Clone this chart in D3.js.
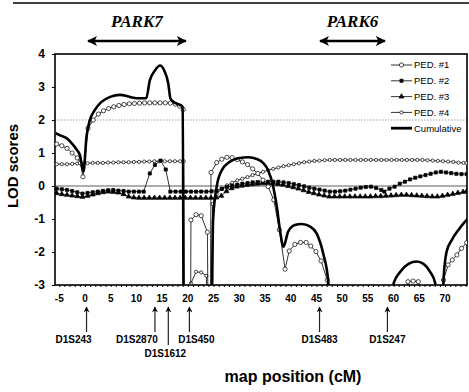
<!DOCTYPE html>
<html>
<head>
<meta charset="utf-8">
<script src="https://cdn.jsdelivr.net/npm/d3@7"></script>
<style>
body { margin: 0; background: #fff; }
svg { display: block; }
</style>
</head>
<body>
<div id="chart"></div>
<script>
var width = 469;
var height = 392;

// LOD scores, [map position cM, LOD]; -10 = off the bottom of the plot
var ped1 = [[-5.5,1.27],[-4.5,1.22],[-3.5,1.14],[-2.5,1.0],[-1.5,0.85],[-0.9,0.7],[-0.4,0.28],
    [0.6,1.75],[1.6,2.0],[2.6,2.18],[3.6,2.28],[4.6,2.35],[5.6,2.4],[6.6,2.44],[7.6,2.47],[8.6,2.49],
    [9.6,2.5],[10.6,2.51],[11.6,2.52],[12.6,2.52],[13.6,2.52],[14.6,2.52],[15.6,2.52],[16.6,2.51],
    [17.6,2.48],[18.4,2.42],[19.1,2.32],[19.3,-10],[20.4,-10],[20.6,-1.03],[21.6,-0.87],[22.6,-0.9],
    [23.8,-1.4],[24.2,-10],[24.5,0.41],[25.6,0.71],[26.6,0.81],[27.6,0.87],[28.6,0.86],[29.6,0.8],
    [30.6,0.73],[31.6,0.65],[32.6,0.52],[33.6,0.38],[34.6,0.18],[35.6,-0.02],[36.7,-0.42],[37.8,-1.33],
    [38.9,-2.52],[39.7,-1.97],[40.8,-1.77],[41.9,-1.71],[43.0,-1.71],[43.9,-1.82],[44.9,-1.99],
    [45.9,-2.27],[47.1,-2.85],[47.4,-10],[62.4,-10],[62.8,-2.9],[63.8,-2.88],[64.8,-2.9],[65.2,-10],
    [69.4,-10],[69.7,-2.85],[70.6,-2.39],[71.4,-2.24],[72.3,-2.09],[73.2,-1.89],[74.2,-1.72]];

var ped2 = [[-5.5,-0.08],[-4.5,-0.1],[-3.5,-0.12],[-2.5,-0.15],[-1.5,-0.19],[-0.5,-0.23],[0.5,-0.21],
    [1.5,-0.19],[2.5,-0.17],[3.5,-0.15],[4.5,-0.13],[5.5,-0.12],[6.5,-0.14],[7.5,-0.15],[8.5,-0.17],
    [9.5,-0.17],[10.5,-0.17],[11.4,-0.17],[12.6,0.38],[13.6,0.64],[14.7,0.77],[15.7,0.5],[16.6,-0.17],
    [17.6,-0.17],[18.6,-0.17],[19.6,-0.17],[20.6,-0.17],[21.6,-0.17],[22.6,-0.17],[23.6,-0.17],
    [24.6,-0.16],[25.6,-0.14],[26.6,-0.09],[27.6,-0.03],[28.6,0.01],[29.6,0.04],[30.6,0.07],
    [31.6,0.09],[32.6,0.11],[33.6,0.12],[34.6,0.13],[35.6,0.13],[36.6,0.13],[37.6,0.13],[38.6,0.11],
    [39.6,0.09],[40.6,0.06],[41.6,0.03],[42.6,-0.01],[43.6,-0.05],[44.6,-0.08],[45.6,-0.11],
    [46.6,-0.14],[47.6,-0.17],[48.6,-0.17],[49.6,-0.16],[50.6,-0.14],[51.6,-0.11],[52.6,-0.08],
    [53.6,-0.05],[54.6,-0.03],[55.6,-0.02],[56.6,-0.06],[57.6,-0.12],[58.2,-0.17],[59.2,-0.08],
    [60.2,-0.02],[61.2,0.07],[62.2,0.13],[63.2,0.2],[64.2,0.25],[65.2,0.29],[66.2,0.33],[67.2,0.37],
    [68.2,0.41],[69.2,0.43],[70.2,0.41],[71.2,0.39],[72.2,0.37],[73.2,0.36],[74.2,0.36]];

var ped3 = [[-5.5,-0.22],[-4.5,-0.25],[-3.5,-0.27],[-2.5,-0.29],[-1.5,-0.31],[-0.5,-0.33],[0.5,-0.3],
    [1.5,-0.26],[2.5,-0.22],[3.5,-0.19],[4.5,-0.17],[5.5,-0.18],[6.5,-0.2],[7.5,-0.25],[8.5,-0.32],
    [9.5,-0.35],[10.5,-0.36],[11.5,-0.36],[12.5,-0.36],[13.5,-0.36],[14.5,-0.36],[15.5,-0.36],
    [16.5,-0.36],[17.5,-0.36],[18.5,-0.36],[19.5,-0.36],[20.5,-0.36],[21.5,-0.36],[22.5,-0.36],
    [23.5,-0.36],[24.5,-0.36],[25.5,-0.35],[26.5,-0.3],[27.5,-0.16],[28.5,-0.07],[29.5,-0.02],
    [30.5,0.01],[31.5,0.03],[32.5,0.05],[33.5,0.07],[34.5,0.08],[35.5,0.08],[36.5,0.08],[37.5,0.06],
    [38.5,0.04],[39.5,0.0],[40.5,-0.04],[41.5,-0.08],[42.5,-0.13],[43.5,-0.18],[44.5,-0.22],
    [45.5,-0.26],[46.5,-0.29],[47.5,-0.32],[48.5,-0.32],[49.5,-0.32],[50.5,-0.32],[51.5,-0.32],
    [52.5,-0.32],[53.5,-0.32],[54.5,-0.32],[55.5,-0.32],[56.5,-0.31],[57.5,-0.31],[58.5,-0.3],
    [59.5,-0.29],[60.5,-0.28],[61.5,-0.27],[62.5,-0.27],[63.5,-0.28],[64.5,-0.29],[65.5,-0.3],
    [66.5,-0.31],[67.5,-0.32],[68.5,-0.32],[69.5,-0.3],[70.5,-0.27],[71.5,-0.24],[72.5,-0.21],
    [73.5,-0.18],[74.2,-0.16]];

var ped4 = [[-5.5,0.66],[-4.5,0.66],[-3.5,0.66],[-2.5,0.67],[-1.5,0.68],[-0.5,0.68],[0.5,0.69],
    [1.5,0.7],[2.5,0.7],[3.5,0.7],[4.5,0.71],[5.5,0.71],[6.5,0.72],[7.5,0.72],[8.5,0.72],[9.5,0.73],
    [10.5,0.73],[11.5,0.74],[12.5,0.74],[13.5,0.75],[14.5,0.75],[15.5,0.75],[16.5,0.75],[17.5,0.75],
    [18.5,0.75],[19.2,0.75],[19.4,-10],[20.4,-10],[20.6,-2.95],[21.6,-2.6],[22.6,-2.62],[23.6,-2.72],
    [24.2,-10],[24.8,-0.55],[25.6,-0.25],[26.6,-0.08],[27.6,0.02],[28.6,0.1],[29.6,0.17],[30.6,0.22],
    [31.6,0.27],[32.6,0.33],[33.6,0.38],[34.6,0.43],[35.6,0.48],[36.6,0.52],[37.6,0.56],[38.6,0.6],
    [39.6,0.63],[40.6,0.66],[41.6,0.69],[42.6,0.72],[43.6,0.74],[44.6,0.76],[45.6,0.77],[46.6,0.78],
    [47.6,0.79],[48.6,0.79],[49.6,0.79],[50.6,0.79],[51.6,0.79],[52.6,0.79],[53.6,0.79],[54.6,0.79],
    [55.6,0.79],[56.6,0.79],[57.6,0.79],[58.6,0.79],[59.6,0.79],[60.6,0.79],[61.6,0.79],[62.6,0.79],
    [63.6,0.79],[64.6,0.79],[65.6,0.79],[66.6,0.78],[67.6,0.77],[68.6,0.76],[69.6,0.75],[70.6,0.74],
    [71.6,0.73],[72.6,0.71],[73.6,0.7],[74.2,0.69]];

var cumulative = [[-5.7,1.6],[-4.6,1.52],[-3.6,1.45],[-2.6,1.3],[-1.6,1.1],[-1.0,0.94],[-0.3,0.43],
    [0.3,1.5],[0.85,1.95],[1.9,2.3],[3.2,2.55],[4.9,2.7],[6.8,2.76],[8.75,2.7],[10,2.66],[11.9,2.66],
    [12.6,3.2],[13.6,3.5],[14.6,3.65],[15.4,3.5],[16.2,3.1],[16.6,2.66],[17.2,2.55],[18.1,2.48],
    [19.0,2.4],[19.3,-10],[24.3,-10],[24.9,-1.03],[25.6,-0.02],[26.6,0.48],[28.2,0.74],[29.8,0.84],
    [31.8,0.87],[33.4,0.82],[34.7,0.69],[35.6,0.48],[36.6,-0.02],[37.3,-0.63],[37.9,-1.33],
    [38.6,-1.84],[39.5,-1.38],[40.8,-1.18],[42.1,-1.15],[43.8,-1.23],[45.0,-1.43],[46.3,-2.04],
    [47.3,-2.9],[47.6,-10],[59.8,-10],[60,-2.95],[61.3,-2.6],[62.9,-2.36],[64.5,-2.29],[65.8,-2.36],
    [67.1,-2.6],[68.1,-2.95],[68.4,-10],[69.5,-10],[69.7,-2.85],[70.3,-1.99],[71.3,-1.64],
    [72.6,-1.33],[73.6,-1.13],[74.5,-0.98]];

var seriesNames = ["PED. #1", "PED. #2", "PED. #3", "PED. #4", "Cumulative"];
var xTicks = [-5, 0, 5, 10, 15, 20, 25, 30, 35, 40, 45, 50, 55, 60, 65, 70];
var yTicks = [-3, -2, -1, 0, 1, 2, 3, 4];

var markerNames = ["D1S243", "D1S2870", "D1S1612", "D1S450", "D1S483", "D1S247"];
var markerPos = [0.3, 13.6, 16.2, 20.3, 45.6, 58.8];

var regionNames = ["PARK7", "PARK6"];
var regionStart = [0.2, 45.3];
var regionEnd = [20.0, 58.7];

// label layout for the marker names (pixel shift, row)
var markerLabelDx = [-13, -18, -3, 7, 0, 0];
var markerLabelRow = [0, 0, 1, 0, 0, 0];

var plotLeft = 55, plotRight = 467, plotTop = 54, plotBottom = 285;

var svg = d3.select("#chart")
    .append("svg")
    .attr("width", width)
    .attr("height", height)
    .style("font-family", "'Liberation Sans', Arial, sans-serif");

var x = d3.scaleLinear()
    .domain([-5.83, 74.27])
    .range([plotLeft, plotRight]);

var y = d3.scaleLinear()
    .domain([-3, 4])
    .range([plotBottom, plotTop]);

// rule at the top of the page
svg.append("line")
    .attr("x1", 13).attr("x2", 469)
    .attr("y1", 3).attr("y2", 3)
    .attr("stroke", "#000")
    .attr("stroke-width", 1.5);

var defs = svg.append("defs");
defs.append("clipPath")
    .attr("id", "plotclip")
    .append("rect")
    .attr("x", plotLeft)
    .attr("y", plotTop)
    .attr("width", plotRight - plotLeft)
    .attr("height", plotBottom - plotTop);

defs.append("marker")
    .attr("id", "head")
    .attr("viewBox", "0 0 10 10")
    .attr("refX", 9).attr("refY", 5)
    .attr("markerWidth", 4).attr("markerHeight", 4)
    .attr("orient", "auto-start-reverse")
    .append("path")
    .attr("d", "M0,0 L10,5 L0,10 L2.5,5 Z")
    .attr("fill", "#000");

defs.append("marker")
    .attr("id", "uphead")
    .attr("viewBox", "0 0 10 10")
    .attr("refX", 9).attr("refY", 5)
    .attr("markerWidth", 7).attr("markerHeight", 6)
    .attr("markerUnits", "userSpaceOnUse")
    .attr("orient", "auto")
    .append("path")
    .attr("d", "M0,0 L10,5 L0,10 L3,5 Z")
    .attr("fill", "#000");

// dotted line at LOD 2 and solid line at 0
svg.append("line")
    .attr("x1", plotLeft).attr("x2", plotRight)
    .attr("y1", y(2)).attr("y2", y(2))
    .attr("stroke", "#888")
    .attr("stroke-width", 0.8)
    .attr("stroke-dasharray", "1.5,1.5");

svg.append("line")
    .attr("x1", plotLeft).attr("x2", plotRight)
    .attr("y1", y(0)).attr("y2", y(0))
    .attr("stroke", "#333")
    .attr("stroke-width", 0.8);

// y axis
var yAxis = svg.append("g")
    .attr("transform", "translate(" + plotLeft + ",0)")
    .call(d3.axisLeft(y).tickValues(yTicks).tickSize(3).tickPadding(7)
        .tickFormat(function(d) { return d; }));
yAxis.select(".domain").remove();
yAxis.selectAll("text")
    .attr("font-size", 12)
    .attr("font-weight", "bold")
    .attr("fill", "#000")
    .attr("font-family", "'Liberation Sans', Arial, sans-serif");

// x axis small ticks and labels
var xAxis = svg.append("g")
    .attr("transform", "translate(0," + plotBottom + ")")
    .call(d3.axisBottom(x).tickValues(d3.range(-5, 75)).tickSize(2).tickFormat(""));
xAxis.select(".domain").remove();

svg.append("g")
    .selectAll("text")
    .data(xTicks)
    .enter()
    .append("text")
    .attr("x", function(d) { return x(d); })
    .attr("y", 302)
    .attr("text-anchor", "middle")
    .attr("font-size", 10)
    .attr("font-weight", "bold")
    .text(function(d) { return d; });

// frame
svg.append("rect")
    .attr("x", plotLeft).attr("y", plotTop)
    .attr("width", plotRight - plotLeft).attr("height", plotBottom - plotTop)
    .attr("fill", "none")
    .attr("stroke", "#000")
    .attr("stroke-width", 1.6);

var plot = svg.append("g").attr("clip-path", "url(#plotclip)");

var line = d3.line()
    .x(function(d) { return x(d[0]); })
    .y(function(d) { return y(d[1]); });

var symCircle = d3.symbol().type(d3.symbolCircle);
var symSquare = d3.symbol().type(d3.symbolSquare);
var symTriangle = d3.symbol().type(d3.symbolTriangle);

var styles = [
    {sym: symCircle, size: 14, fill: "#fff"},
    {sym: symSquare, size: 10, fill: "#000"},
    {sym: symTriangle, size: 11, fill: "#000"},
    {sym: symCircle, size: 8, fill: "#fff"}
];

function drawSeries(data, st) {
    plot.append("path")
        .datum(data)
        .attr("fill", "none")
        .attr("stroke", "#000")
        .attr("stroke-width", 0.8)
        .attr("d", line);

    plot.append("g")
        .selectAll("path")
        .data(data.filter(function(d) { return d[1] > -5; }))
        .enter()
        .append("path")
        .attr("transform", function(d) {
            return "translate(" + x(d[0]) + "," + y(d[1]) + ")";
        })
        .attr("d", st.sym.size(st.size)())
        .attr("fill", st.fill)
        .attr("stroke", "#000")
        .attr("stroke-width", 0.7);
}

drawSeries(ped4, styles[3]);
drawSeries(ped3, styles[2]);
drawSeries(ped2, styles[1]);
drawSeries(ped1, styles[0]);

plot.append("path")
    .datum(cumulative)
    .attr("fill", "none")
    .attr("stroke", "#000")
    .attr("stroke-width", 2.6)
    .attr("stroke-linejoin", "round")
    .attr("d", line.curve(d3.curveMonotoneX));

// legend
var legend = svg.append("g");
seriesNames.forEach(function(name, i) {
    var ly = 65 + i * 15.8;
    legend.append("line")
        .attr("x1", 391).attr("x2", 412)
        .attr("y1", ly).attr("y2", ly)
        .attr("stroke", "#000")
        .attr("stroke-width", i == 4 ? 2.8 : 0.8);
    if (i < 4) {
        legend.append("path")
            .attr("transform", "translate(401.5," + ly + ")")
            .attr("d", styles[i].sym.size(styles[i].size)())
            .attr("fill", styles[i].fill)
            .attr("stroke", "#000")
            .attr("stroke-width", 0.7);
    }
    legend.append("text")
        .attr("x", 414)
        .attr("y", ly + 3.4)
        .attr("font-size", 9.5)
        .text(name);
});

// linkage regions
regionNames.forEach(function(name, i) {
    var x0 = x(regionStart[i]), x1 = x(regionEnd[i]);
    svg.append("line")
        .attr("x1", x0 + 2).attr("x2", x1 - 2)
        .attr("y1", 41).attr("y2", 41)
        .attr("stroke", "#000")
        .attr("stroke-width", 2.5)
        .attr("marker-start", "url(#head)")
        .attr("marker-end", "url(#head)");
    svg.append("text")
        .attr("x", (x0 + x1) / 2)
        .attr("y", 27)
        .attr("text-anchor", "middle")
        .attr("font-family", "'Liberation Serif', 'Times New Roman', serif")
        .attr("font-style", "italic")
        .attr("font-weight", "bold")
        .attr("font-size", 17)
        .text(name);
});

// marker arrows
markerNames.forEach(function(name, i) {
    var mx = x(markerPos[i]);
    var yEnd = markerLabelRow[i] ? 345 : 332;
    svg.append("line")
        .attr("x1", mx).attr("x2", mx)
        .attr("y1", yEnd).attr("y2", 307)
        .attr("stroke", "#222")
        .attr("stroke-width", 1.2)
        .attr("marker-end", "url(#uphead)");
    svg.append("text")
        .attr("x", mx + markerLabelDx[i])
        .attr("y", 343 + markerLabelRow[i] * 13.5)
        .attr("text-anchor", "middle")
        .attr("font-size", 10)
        .attr("font-weight", "bold")
        .text(name);
});

// axis titles
svg.append("text")
    .attr("transform", "translate(18,166) rotate(-90)")
    .attr("text-anchor", "middle")
    .attr("font-size", 15)
    .attr("font-weight", "bold")
    .text("LOD scores");

svg.append("text")
    .attr("x", 293)
    .attr("y", 382)
    .attr("text-anchor", "middle")
    .attr("font-size", 16)
    .attr("font-weight", "bold")
    .text("map position (cM)");
</script>
</body>
</html>
